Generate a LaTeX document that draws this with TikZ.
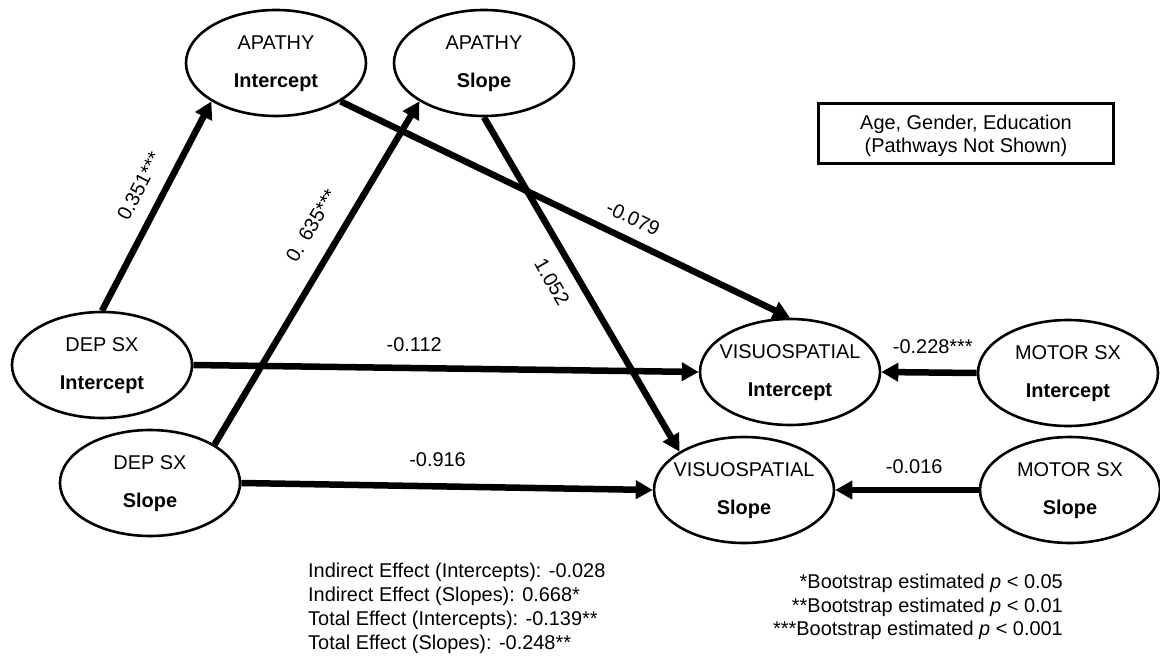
\documentclass[tikz,border=0pt]{standalone}
\usepackage{fontspec}
\setmainfont{Liberation Sans}
\usetikzlibrary{arrows.meta,shapes.geometric}
\newcommand\semfont{\fontsize{20}{24}\selectfont}
\begin{document}
\begin{tikzpicture}[x=1bp,y=-1bp,
  lat/.style={ellipse, draw, line width=2.6bp, minimum width=180bp, minimum height=106bp, inner sep=0pt},
  ltop/.style={anchor=base, inner sep=0pt, font=\semfont},
  lbot/.style={anchor=base, inner sep=0pt, font=\semfont\bfseries},
  pth/.style={line width=6.5bp, -{Triangle[length=17bp,width=18bp]}},
  lab/.style={font=\semfont, inner sep=0pt, text height=13.5bp, text depth=0pt},
  note/.style={font=\semfont, inner sep=0pt}]
\useasboundingbox (0,0) rectangle (1160,656);
\fill[white] (0,0) rectangle (1160,656);
% latent variables
\newcommand\latent[5]{%
  \node[lat] (#1) at (#2,#3) {};
  \node[ltop] (#1-t) at (#2,#3-13.5) {#4};
  \node[lbot] (#1-b) at (#2,#3+24.5) {#5};}
\latent{apI}{276}{63}{APATHY}{Intercept}
\latent{apS}{484}{63}{APATHY}{Slope}
\latent{depI}{102}{365}{DEP SX}{Intercept}
\latent{depS}{150}{483}{DEP SX}{Slope}
\latent{visI}{790}{372}{VISUOSPATIAL}{Intercept}
\latent{visS}{744}{490}{VISUOSPATIAL}{Slope}
\latent{motI}{1068}{373}{MOTOR SX}{Intercept}
\latent{motS}{1070}{490}{MOTOR SX}{Slope}
% covariates box
\node[draw, line width=3bp, minimum width=295bp, minimum height=60bp, inner sep=0pt] (cov) at (966,134) {};
\node[note, anchor=base] (cov-a) at (966,130) {Age, Gender, Education};
\node[note, anchor=base] (cov-b) at (966,153) {(Pathways Not Shown)};
% paths
\draw[pth] (depI.north) -- node[lab, sloped, above=14.5bp, pos=0.54] (l1) {0.351***} (apI.south west);
\draw[pth] (depS.north east) -- node[lab, sloped, above=19bp, pos=0.595] (l2) {0. 635***} (apS.south west);
\draw[pth] (apI.south east) -- node[lab, sloped, above=11.5bp, pos=0.63] (l3) {-0.079} (visI.north);
\draw[pth] (apS.south) -- node[lab, sloped, below=14.5bp, pos=0.456] (l4) {1.052} (visS.north west);
\draw[pth] (depI.east) -- node[lab, above=13bp, pos=0.437] (l5) {-0.112} (visI.west);
\draw[pth] (depS.east) -- node[lab, above=17bp, pos=0.477] (l6) {-0.916} (visS.west);
\draw[pth] (motI.west) -- node[lab, above=15.5bp, pos=0.46] (l7) {-0.228***} (visI.east);
\draw[pth] (motS.west) -- node[lab, above=13bp, pos=0.45] (l8) {-0.016} (visS.east);
% effects
\node[note, anchor=base west] (e1) at (308,577) {Indirect Effect (Intercepts): -0.028};
\node[note, anchor=base west] (e2) at (308,601) {Indirect Effect (Slopes): 0.668*};
\node[note, anchor=base west] (e3) at (308,625) {Total Effect (Intercepts): -0.139**};
\node[note, anchor=base west] (e4) at (308,649) {Total Effect (Slopes): -0.248**};
% footnotes
\node[note, anchor=base east] (f1) at (1063,588) {*Bootstrap estimated \textit{p} < 0.05};
\node[note, anchor=base east] (f2) at (1063,612) {**Bootstrap estimated \textit{p} < 0.01};
\node[note, anchor=base east] (f3) at (1063,635) {***Bootstrap estimated \textit{p} < 0.001};
\end{tikzpicture}
\end{document}
